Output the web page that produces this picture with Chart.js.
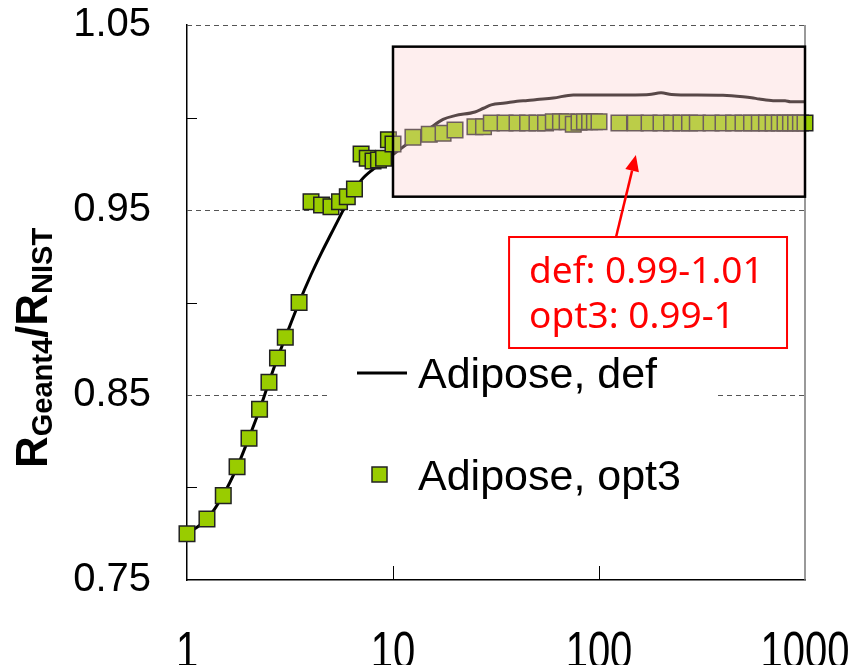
<!DOCTYPE html>
<html lang="en">
<head>
<meta charset="UTF-8">
<title>Adipose: RGeant4 / RNIST</title>
<script src="https://cdn.jsdelivr.net/npm/chart.js@4.4.1/dist/chart.umd.min.js"></script>
<style>
  html, body { margin: 0; padding: 0; background: #fff; }
  #wrap { width: 855px; height: 665px; }
</style>
</head>
<body>
<div id="wrap"><canvas id="ratioChart" width="855" height="665"></canvas></div>
<script>
// values (x on a log scale)
const defEnergy = [1, 1.25, 1.5, 1.75, 2, 2.25, 2.5, 2.75, 3, 3.5,
    4, 4.5, 5, 5.5, 6, 7, 8, 9, 10,
    12.5, 15, 17.5, 20, 25, 27.5, 30, 35, 40, 45, 50, 60, 75,
    100, 125, 150, 175, 200, 225, 250, 300, 400, 500, 550, 600, 700, 800, 850, 1000];
const defRatio = [0.775, 0.783, 0.796, 0.811, 0.827, 0.842, 0.857, 0.870, 0.881, 0.900,
    0.915, 0.927, 0.937, 0.946, 0.954, 0.966, 0.972, 0.976, 0.980,
    0.988, 0.994, 0.999, 1.001, 1.003, 1.005, 1.0068, 1.0078, 1.0088, 1.0092, 1.0097, 1.0105, 1.0122,
    1.0122, 1.0122, 1.0122, 1.0124, 1.0134, 1.0124, 1.0122, 1.0122, 1.0120, 1.0112, 1.0107, 1.0100, 1.0091, 1.0091, 1.0085, 1.0085];

const opt3Energy = [1, 1.25, 1.5, 1.75, 2, 2.25, 2.5, 2.75, 3, 3.5,
    4, 4.5, 5, 5.5, 6, 6.5, 7, 7.5, 8, 8.5, 9, 9.5, 10,
    12.5, 15, 17.5, 20, 25, 27.5, 30, 35, 40, 45, 50, 55, 60, 65, 70, 75, 80, 85, 90, 95, 100,
    125, 150, 175, 200, 225, 250, 275, 300, 350, 400, 450, 500, 550, 600, 650, 700, 750, 800, 850, 900, 950, 1000];
const opt3Ratio = [0.775, 0.783, 0.7956, 0.8112, 0.8266, 0.8423, 0.8569, 0.870, 0.8812, 0.900,
    0.9545, 0.9527, 0.9518, 0.9545, 0.9572, 0.9614, 0.9803, 0.978, 0.9765, 0.977, 0.978, 0.988, 0.9857,
    0.9893, 0.9909, 0.9915, 0.9932, 0.995, 0.995, 0.997, 0.997, 0.997, 0.997, 0.997, 0.997, 0.9977, 0.9977, 0.9977, 0.9963, 0.9975, 0.9977, 0.9977, 0.9977, 0.9977,
    0.997, 0.997, 0.997, 0.997, 0.997, 0.997, 0.997, 0.997, 0.997, 0.997, 0.997, 0.997, 0.997, 0.997, 0.997, 0.997, 0.997, 0.997, 0.997, 0.997, 0.997, 0.997];

const xTickValues = [1, 10, 100, 1000];
const yTickValues = [0.75, 0.8, 0.85, 0.9, 0.95, 1.0, 1.05];
const yTickLabels = ['0.75', '', '0.85', '', '0.95', '', '1.05'];

const seriesNames = ['Adipose, def', 'Adipose, opt3'];
const noteLines = ['def: 0.99-1.01', 'opt3: 0.99-1'];

const FONT = '"Liberation Sans", Arial, sans-serif';

function toPoints(xs, ys) {
    return xs.map((x, i) => ({ x: x, y: ys[i] }));
}

// keep the plot area where the figure has it: no automatic label padding
function noAutoPadding(s) {
    s.paddingLeft = 0;
    s.paddingRight = 0;
    s.paddingTop = 0;
    s.paddingBottom = 0;
}

// dashed grid, inner tick marks and right frame line
const framePlugin = {
    id: 'frame',
    beforeDatasetsDraw(chart) {
        const { ctx, chartArea: a, scales: { x, y } } = chart;
        ctx.save();
        ctx.strokeStyle = '#555';
        ctx.lineWidth = 1;
        ctx.setLineDash([5, 4]);
        yTickValues.forEach((v, i) => {
            if (!yTickLabels[i] || i === 0) return;
            const py = Math.round(y.getPixelForValue(v)) + 0.5;
            ctx.beginPath();
            ctx.moveTo(a.left, py);
            ctx.lineTo(a.right, py);
            ctx.stroke();
        });
        ctx.setLineDash([]);
        ctx.strokeStyle = '#000';
        yTickValues.forEach((v, i) => {
            if (yTickLabels[i]) return;
            const py = Math.round(y.getPixelForValue(v)) + 0.5;
            ctx.beginPath();
            ctx.moveTo(a.left, py);
            ctx.lineTo(a.left + 10, py);
            ctx.stroke();
        });
        xTickValues.slice(1, -1).forEach(v => {
            const px = Math.round(x.getPixelForValue(v)) + 0.5;
            ctx.beginPath();
            ctx.moveTo(px, a.bottom);
            ctx.lineTo(px, a.bottom - 14);
            ctx.stroke();
        });
        ctx.strokeStyle = '#777';
        ctx.lineWidth = 1.5;
        ctx.beginPath();
        ctx.moveTo(a.right, a.top);
        ctx.lineTo(a.right, a.bottom);
        ctx.stroke();
        ctx.restore();
    }
};

// shaded region, red note with arrow, legend
const calloutPlugin = {
    id: 'callout',
    afterDatasetsDraw(chart, args, opts) {
        const { ctx, scales: { x, y } } = chart;
        const b = opts.region;
        const bx0 = x.getPixelForValue(b.x0), bx1 = x.getPixelForValue(b.x1);
        const by0 = y.getPixelForValue(b.y0), by1 = y.getPixelForValue(b.y1);
        ctx.save();
        ctx.fillStyle = 'rgba(252, 205, 205, 0.35)';
        ctx.fillRect(bx0, by0, bx1 - bx0, by1 - by0);
        ctx.strokeStyle = '#000';
        ctx.lineWidth = 2.5;
        ctx.strokeRect(bx0, by0, bx1 - bx0, by1 - by0);

        // note box
        const n = opts.note;
        const nx0 = x.getPixelForValue(n.x0), nx1 = x.getPixelForValue(n.x1);
        const ny0 = y.getPixelForValue(n.y0), ny1 = y.getPixelForValue(n.y1);
        ctx.fillStyle = '#fff';
        ctx.fillRect(nx0, ny0, nx1 - nx0, ny1 - ny0);
        ctx.strokeStyle = '#ff0000';
        ctx.lineWidth = 2;
        ctx.strokeRect(nx0, ny0, nx1 - nx0, ny1 - ny0);
        ctx.fillStyle = '#ff0000';
        ctx.font = '37px "Noto Sans", sans-serif';
        ctx.textBaseline = 'alphabetic';
        noteLines.forEach((t, i) => ctx.fillText(t, nx0 + 20, ny0 + 46 + i * 45));

        // arrow
        const ax0 = x.getPixelForValue(n.arrowFrom[0]), ay0 = y.getPixelForValue(n.arrowFrom[1]);
        const ax1 = x.getPixelForValue(n.arrowTo[0]), ay1 = y.getPixelForValue(n.arrowTo[1]);
        const ang = Math.atan2(ay1 - ay0, ax1 - ax0);
        const headLen = 16, headW = 7;
        const hx = ax1 - headLen * Math.cos(ang), hy = ay1 - headLen * Math.sin(ang);
        ctx.strokeStyle = '#ff0000';
        ctx.lineWidth = 2.5;
        ctx.beginPath();
        ctx.moveTo(ax0, ay0);
        ctx.lineTo(hx, hy);
        ctx.stroke();
        ctx.beginPath();
        ctx.moveTo(ax1, ay1);
        ctx.lineTo(hx + headW * Math.sin(ang), hy - headW * Math.cos(ang));
        ctx.lineTo(hx - headW * Math.sin(ang), hy + headW * Math.cos(ang));
        ctx.closePath();
        ctx.fill();

        // legend
        const L = opts.legend;
        ctx.fillStyle = '#fff';
        ctx.fillRect(L.left, L.top, L.width, L.height);
        const ds = chart.data.datasets;
        ctx.font = '43px ' + FONT;
        ctx.fillStyle = '#000';
        // line entry
        ctx.strokeStyle = ds[1].borderColor;
        ctx.lineWidth = ds[1].borderWidth;
        ctx.beginPath();
        ctx.moveTo(L.left + 30, L.top + 21);
        ctx.lineTo(L.left + 80, L.top + 21);
        ctx.stroke();
        ctx.fillText(ds[1].label, L.left + 91, L.top + 36);
        // square entry
        ctx.fillStyle = ds[0].backgroundColor;
        ctx.strokeStyle = ds[0].borderColor;
        ctx.lineWidth = 1.5;
        ctx.fillRect(L.left + 45, L.top + 115, 15, 15);
        ctx.strokeRect(L.left + 45, L.top + 115, 15, 15);
        ctx.fillStyle = '#000';
        ctx.fillText(ds[0].label, L.left + 91, L.top + 138);
        ctx.restore();
    },
    afterDraw(chart) {
        const ctx = chart.ctx;
        const xs = chart.scales.x;

        // x tick labels: tall, vertically stretched digits as in the figure
        ctx.save();
        ctx.fillStyle = '#000';
        ctx.font = '40px ' + FONT;
        ctx.textAlign = 'center';
        ctx.textBaseline = 'alphabetic';
        xs.ticks.forEach(t => {
            ctx.save();
            ctx.translate(xs.getPixelForValue(t.value), 668);
            ctx.scale(1, 1.3);
            ctx.fillText(t.label || String(t.value), 0, 0);
            ctx.restore();
        });
        ctx.restore();

        // y axis title with subscripts
        const parts = [
            { t: 'R', sub: false }, { t: 'Geant4', sub: true },
            { t: '/R', sub: false }, { t: 'NIST', sub: true }
        ];
        ctx.save();
        ctx.translate(47, 468);
        ctx.rotate(-Math.PI / 2);
        ctx.fillStyle = '#000';
        ctx.textBaseline = 'alphabetic';
        let cx = 0;
        parts.forEach(p => {
            ctx.font = 'bold ' + (p.sub ? 29 : 44) + 'px ' + FONT;
            ctx.fillText(p.t, cx, p.sub ? 5 : 0);
            cx += ctx.measureText(p.t).width;
        });
        ctx.restore();
    }
};

const ctx = document.getElementById('ratioChart').getContext('2d');
const ratioChart = new Chart(ctx, {
    type: 'line',
    data: {
        datasets: [{
            label: seriesNames[1],
            data: toPoints(opt3Energy, opt3Ratio),
            showLine: false,
            pointStyle: 'rect',
            pointRadius: 11,
            pointBackgroundColor: '#99cc00',
            pointBorderColor: '#222',
            pointBorderWidth: 1.5,
            backgroundColor: '#99cc00',
            borderColor: '#222',
            clip: false
        }, {
            label: seriesNames[0],
            data: toPoints(defEnergy, defRatio),
            borderColor: '#000',
            borderWidth: 3,
            pointRadius: 0,
            cubicInterpolationMode: 'monotone',
            fill: false,
            clip: false
        }]
    },
    options: {
        responsive: false,
        animation: false,
        devicePixelRatio: 1,
        layout: { padding: { left: 0, right: 50, top: 25, bottom: 0 } },
        scales: {
            x: {
                type: 'logarithmic',
                min: 1,
                max: 1000,
                afterBuildTicks: s => { s.ticks = xTickValues.map(v => ({ value: v })); },
                afterFit: s => { s.height = 85; noAutoPadding(s); },
                ticks: {
                    display: false,
                    autoSkip: false,
                    callback: v => String(v)
                },
                grid: { drawOnChartArea: false, drawTicks: false },
                border: { color: '#000', width: 1.5 }
            },
            y: {
                type: 'linear',
                min: 0.75,
                max: 1.05,
                afterBuildTicks: s => { s.ticks = yTickValues.map(v => ({ value: v })); },
                afterFit: s => { s.width = 187; noAutoPadding(s); },
                ticks: {
                    font: { family: FONT, size: 40 },
                    color: '#000',
                    padding: 36,
                    autoSkip: false,
                    callback: (v, i) => yTickLabels[i]
                },
                grid: { drawOnChartArea: false, drawTicks: false },
                border: { color: '#000', width: 1.5 }
            }
        },
        plugins: {
            legend: { display: false },
            tooltip: { enabled: false },
            callout: {
                region: { x0: 10, x1: 1000, y0: 1.0383, y1: 0.9572 },
                note: { x0: 36.6, x1: 818, y0: 0.9354, y1: 0.8754,
                        arrowFrom: [121, 0.9354], arrowTo: [151, 0.9797] },
                legend: { left: 327, top: 352, width: 388, height: 160 }
            }
        }
    },
    plugins: [framePlugin, calloutPlugin]
});
</script>
</body>
</html>
